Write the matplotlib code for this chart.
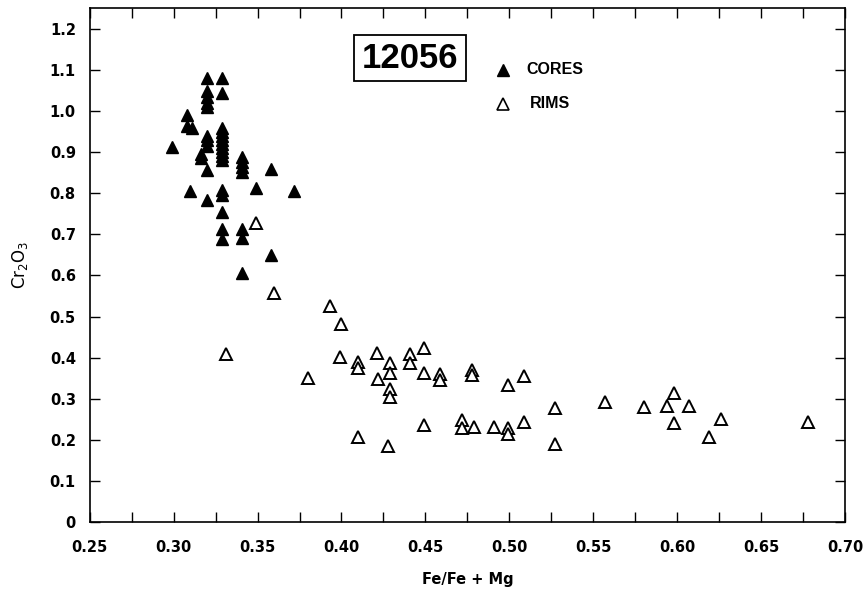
import matplotlib
matplotlib.use("Agg")
import matplotlib.pyplot as plt
from matplotlib.patches import Rectangle
from matplotlib.ticker import MultipleLocator

# Fe/(Fe+Mg) vs Cr2O3, sample 12056
core_x = [0.299, 0.308, 0.308, 0.311, 0.310,
          0.320, 0.320, 0.320, 0.320, 0.320,
          0.320, 0.320, 0.320, 0.316, 0.316, 0.320, 0.320,
          0.329, 0.329,
          0.329, 0.329, 0.329, 0.329, 0.329, 0.329, 0.329, 0.329, 0.329,
          0.329, 0.329, 0.329, 0.329, 0.329,
          0.341, 0.341, 0.341, 0.341,
          0.341, 0.341, 0.341,
          0.349, 0.358, 0.358, 0.372]
core_y = [0.912, 0.990, 0.963, 0.960, 0.805,
          1.080, 1.050, 1.035, 1.020, 1.010,
          0.940, 0.930, 0.915, 0.896, 0.885, 0.857, 0.784,
          1.080, 1.045,
          0.960, 0.950, 0.940, 0.930, 0.920, 0.910, 0.900, 0.890, 0.880,
          0.808, 0.796, 0.754, 0.712, 0.688,
          0.888, 0.876, 0.864, 0.852,
          0.712, 0.692, 0.605,
          0.812, 0.860, 0.650, 0.806]

rim_x = [0.349, 0.360, 0.331, 0.380, 0.393, 0.400, 0.399, 0.410, 0.410,
         0.421, 0.422, 0.429, 0.429, 0.429, 0.429, 0.441, 0.441, 0.449,
         0.449, 0.459, 0.459, 0.478, 0.478, 0.499, 0.509,
         0.449, 0.472, 0.472, 0.479, 0.491, 0.499, 0.499, 0.509,
         0.410, 0.428,
         0.527, 0.527, 0.557, 0.580, 0.594, 0.598, 0.598, 0.607,
         0.626, 0.619, 0.678]
rim_y = [0.727, 0.557, 0.410, 0.351, 0.526, 0.483, 0.401, 0.390, 0.374,
         0.412, 0.348, 0.388, 0.363, 0.325, 0.305, 0.409, 0.388, 0.423,
         0.362, 0.360, 0.345, 0.371, 0.358, 0.333, 0.355,
         0.236, 0.248, 0.228, 0.232, 0.232, 0.228, 0.214, 0.243,
         0.206, 0.185,
         0.278, 0.191, 0.293, 0.281, 0.282, 0.313, 0.242, 0.282,
         0.252, 0.206, 0.244]

x_ticks = [0.25, 0.30, 0.35, 0.40, 0.45, 0.50, 0.55, 0.60, 0.65, 0.70]
y_ticks = [0, 0.1, 0.2, 0.3, 0.4, 0.5, 0.6, 0.7, 0.8, 0.9, 1.0, 1.1, 1.2]
y_tick_labels = ["0"] + [f"{v:.1f}" for v in y_ticks[1:]]

plt.rcParams["font.family"] = "DejaVu Sans"
narrow = ["Liberation Sans", "DejaVu Sans"]

fig = plt.figure(figsize=(8.63, 5.94), dpi=100)
ax = fig.add_axes([0.104, 0.121, 0.875, 0.865])

ax.plot(core_x, core_y, linestyle="none", marker="^", markersize=8.5,
        color="black", markeredgecolor="black")
ax.plot(rim_x, rim_y, linestyle="none", marker="^", markersize=8.5,
        markerfacecolor="white", markeredgecolor="black", markeredgewidth=1.4)

ax.set_xlim(0.25, 0.70)
ax.set_ylim(0, 1.25)
ax.set_xticks(x_ticks)
ax.xaxis.set_minor_locator(MultipleLocator(0.025))
ax.set_xticklabels([f"{v:.2f}" for v in x_ticks], fontweight="bold", fontsize=10.5)
ax.set_yticks(y_ticks)
ax.set_yticklabels(y_tick_labels, fontweight="bold", fontsize=10.5)
ax.tick_params(axis="both", which="both", direction="in", top=True, right=True,
               length=7, width=1)
ax.tick_params(axis="x", which="major", pad=13)
ax.tick_params(axis="y", which="major", pad=10)
for s in ax.spines.values():
    s.set_linewidth(1.2)

ax.set_xlabel("Fe/Fe + Mg", fontweight="bold", fontsize=10.5, labelpad=12)
ax.set_ylabel("Cr$_2$O$_3$", fontsize=12, labelpad=14)

# sample label box
ax.add_patch(Rectangle((0.4075, 1.074), 0.067, 0.112, facecolor="white",
                       edgecolor="black", linewidth=1.3, zorder=3))
ax.text(0.441, 1.129, "12056", fontsize=25, fontweight="bold", family=narrow,
        ha="center", va="center", zorder=4)

# key
ax.plot([0.4964], [1.100], linestyle="none", marker="^", markersize=8, color="black")
ax.text(0.510, 1.100, "CORES", fontsize=11.5, fontweight="bold", family=narrow, va="center")
ax.plot([0.4964], [1.018], linestyle="none", marker="^", markersize=8,
        markerfacecolor="white", markeredgecolor="black", markeredgewidth=1.2)
ax.text(0.512, 1.018, "RIMS", fontsize=11.5, fontweight="bold", family=narrow, va="center")

fig.savefig("out.png", dpi=100)
